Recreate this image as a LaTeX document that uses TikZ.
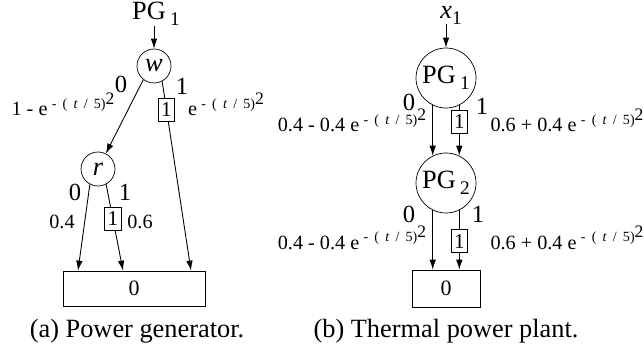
\documentclass[tikz,border=0pt]{standalone}
\usepackage{fontspec}
\setmainfont{Liberation Serif}
\usetikzlibrary{
  arrows.meta,
  calc
}
\newcommand{\pgname}[1]{PG\,\raisebox{-0.5ex}{\fontsize{11}{11}\selectfont #1}}
\newcommand{\decay}{e\hspace{2.5pt}\raisebox{4.5pt}{\fontsize{8}{8}\selectfont
  -\hspace{3.5pt}(\hspace{3.5pt}\textit{t}\hspace{3.5pt}/\hspace{3.5pt}5)\raisebox{2pt}{\fontsize{10}{10}\selectfont 2}}}
\tikzset{
  ddnode/.style={draw, circle, inner sep=0pt, font=\fontsize{15}{15}\selectfont},
  termbox/.style={draw, rectangle, inner sep=0pt, fill=white, font=\fontsize{12.5}{12.5}\selectfont},
  valbox/.style={draw, rectangle, inner sep=0pt, fill=white, minimum width=0.33cm, minimum height=0.46cm,
    font=\fontsize{12}{12}\selectfont},
  toplbl/.style={inner sep=0pt, font=\fontsize{15}{15}\selectfont},
  branch/.style={inner sep=0pt, font=\fontsize{14}{14}\selectfont},
  prob/.style={inner sep=0pt, anchor=base, font=\fontsize{11.5}{11.5}\selectfont},
  caption/.style={inner sep=0pt, font=\fontsize{15}{15}\selectfont},
  arr/.style={-{Latex[length=2mm, width=1.3mm]}, line width=0.5pt}
}

\begin{document}
\begin{tikzpicture}[x=0.02cm, y=-0.02cm]
  \useasboundingbox (0,0) rectangle (644,354);
  % (a) power generator
  \node[toplbl] (pgin) at (156,14) {\pgname{1}};
  \node[ddnode, minimum size=0.68cm] (w) at (154,66) {\textit{w}};
  \node[ddnode, minimum size=0.68cm] (r) at (98,169) {\textit{r}};
  \node[termbox, minimum width=2.84cm, minimum height=0.7cm] (za) at (134,288.5) {0};
  \coordinate (wend) at ($(za.north)+(57,0)$);
  \coordinate (r0end) at ($(za.north)+(-56,0)$);
  \coordinate (r1end) at ($(za.north)+(-11,0)$);
  \draw[arr] (pgin.south -| w.north) -- (w);
  \draw[arr] (w.-128) -- (r);
  \draw[arr] (w.-62) -- node[valbox, pos=0.15] {1} (wend);
  \draw[arr] (r.-118) -- (r0end);
  \draw[arr] (r.-62) -- node[valbox, pos=0.4] {1} (r1end);
  \node[branch] (w0) at (121,84) {0};
  \node[branch] (w1) at (182,86) {1};
  \node[prob] (pw0) at (63,116) {1 - \decay};
  \node[prob] (pw1) at (226,116) {\decay};
  \node[branch] (r0) at (75,192) {0};
  \node[branch] (r1) at (125,192) {1};
  \node[prob] (pr0) at (62,228) {0.4};
  \node[prob] (pr1) at (140,228) {0.6};
  \node[caption] (capa) at (137,331) {(a) Power generator.};

  % (b) thermal power plant
  \node[toplbl] (xin) at (451,15) {\textit{x}\raisebox{-0.5ex}{\fontsize{11}{11}\selectfont 1}};
  \node[ddnode, minimum size=1.2cm] (pga) at (446,78) {\pgname{1}};
  \node[ddnode, minimum size=1.2cm] (pgb) at (446,183) {\pgname{2}};
  \node[termbox, minimum width=1.36cm, minimum height=0.74cm] (zb) at (446,288.5) {0};
  \draw[arr] (xin.south -| pga.north) -- (pga);
  \draw[arr] (pga.-116) -- (pgb.116);
  \draw[arr] (pga.-64) -- node[valbox, pos=0.33] {1} (pgb.64);
  \draw[arr] (pgb.-116) -- (pgb.-116 |- zb.north);
  \draw[arr] (pgb.-64) -- node[valbox, pos=0.52] {1} (pgb.-64 |- zb.north);
  \node[branch] (a0) at (409,102) {0};
  \node[branch] (a1) at (482,106) {1};
  \node[prob] (pa0) at (352,132) {0.4 - 0.4 \decay};
  \node[prob] (pa1) at (567,132) {0.6 + 0.4 \decay};
  \node[branch] (b0) at (409,214) {0};
  \node[branch] (b1) at (478,214) {1};
  \node[prob] (pb0) at (352,249) {0.4 - 0.4 \decay};
  \node[prob] (pb1) at (567,249) {0.6 + 0.4 \decay};
  \node[caption] (capb) at (446,331) {(b) Thermal power plant.};
\end{tikzpicture}
\end{document}
